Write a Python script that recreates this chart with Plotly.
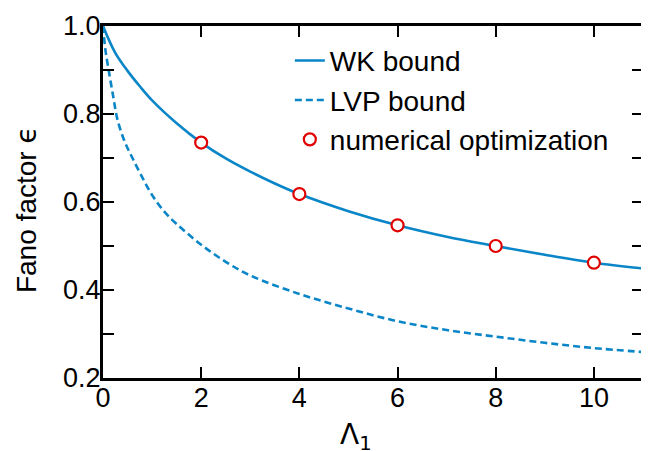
import plotly.graph_objects as go

# Data
wk_x = [0, 0.25, 0.5, 0.75, 1, 1.5, 2, 2.5, 3, 3.5, 4, 5, 6, 7, 8, 9, 10, 11]
wk_y = [1.0, 0.939, 0.898, 0.863, 0.831, 0.779, 0.735, 0.699, 0.669, 0.642,
        0.618, 0.579, 0.547, 0.521, 0.500, 0.480, 0.462, 0.449]

lvp_x = [0, 0.05, 0.1, 0.2, 0.3, 0.45, 0.6, 0.8, 1, 1.25, 1.5, 2, 2.5, 3, 4,
         5, 6, 7, 8, 9, 10, 11]
lvp_y = [1.0, 0.945, 0.91, 0.845, 0.785, 0.735, 0.700, 0.656, 0.616, 0.578,
         0.550, 0.503, 0.464, 0.433, 0.391, 0.358, 0.329, 0.309, 0.294, 0.280,
         0.268, 0.259]

num_x = [2, 4, 6, 8, 10]
num_y = [0.735, 0.618, 0.547, 0.500, 0.462]

x_ticks = [0, 2, 4, 6, 8, 10]
y_ticks = [0.2, 0.3, 0.4, 0.5, 0.6, 0.7, 0.8, 0.9, 1.0]
y_ticktext = ["0.2", "", "0.4", "", "0.6", "", "0.8", "", "1.0"]

BLUE = "#0a86c8"
RED = "#e00000"
FONT = "Liberation Sans, Arial, Helvetica, sans-serif"

fig = go.Figure()
fig.add_trace(go.Scatter(x=wk_x, y=wk_y, mode="lines", name="WK bound",
                         line=dict(color=BLUE, width=2.6, shape="spline", smoothing=1.0)))
fig.add_trace(go.Scatter(x=lvp_x, y=lvp_y, mode="lines", name="LVP bound",
                         line=dict(color=BLUE, width=2.6, dash="7px,4px",
                                   shape="spline", smoothing=1.0)))
fig.add_trace(go.Scatter(x=num_x, y=num_y, mode="markers", name="numerical optimization",
                         marker=dict(symbol="circle", size=12, color="white",
                                     line=dict(color=RED, width=2.2))))

axis_common = dict(showgrid=False, zeroline=False, showline=True, linecolor="black",
                   linewidth=3, mirror="ticks", ticks="inside", ticklen=11,
                   tickwidth=1.5, tickcolor="black", ticklabelstandoff=-6,
                   ticklabeloverflow="allow",
                   tickfont=dict(family=FONT, size=27, color="black"))

fig.update_xaxes(range=[0, 11], tickvals=x_ticks, ticktext=[str(v) for v in x_ticks],
                 **axis_common)
fig.update_yaxes(range=[0.2, 1.0], tickvals=y_ticks, ticktext=y_ticktext,
                 **axis_common)

# The page body keeps its 8px margin, so the figure is sized to fit the window.
fig.update_layout(
    width=641, height=443,
    margin=dict(l=95, r=3, t=9, b=73, pad=0),
    paper_bgcolor="white", plot_bgcolor="white",
    showlegend=True,
    legend=dict(x=0.346, y=0.972, xanchor="left", yanchor="top",
                bgcolor="rgba(0,0,0,0)", borderwidth=0,
                font=dict(family=FONT, size=28, color="black"),
                traceorder="normal"),
    annotations=[
        dict(text='Fano factor <span style="font-family:DejaVu Sans">ϵ</span>',
             xref="paper", yref="paper", x=-0.142, y=0.478, textangle=-90,
             showarrow=False, xanchor="center", yanchor="middle",
             font=dict(family=FONT, size=28, color="black")),
        dict(text="Λ<sub>1</sub>", xref="paper", yref="paper", x=0.468, y=-0.165,
             showarrow=False, xanchor="center", yanchor="middle",
             font=dict(family="DejaVu Sans", size=28, color="black")),
    ],
)

fig.write_html("out.html", config={"displayModeBar": False})
